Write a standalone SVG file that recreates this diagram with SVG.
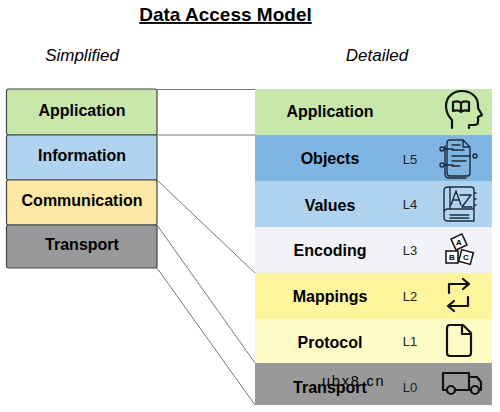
<svg xmlns="http://www.w3.org/2000/svg" width="500" height="412" viewBox="0 0 500 412">
<style>
text{font-family:"Liberation Sans",Arial,sans-serif;fill:#000}
.b{font-weight:bold;font-size:16px;text-anchor:middle}
.l{font-size:13px;text-anchor:middle;fill:#222}
.h{font-style:italic;font-size:17px;text-anchor:middle}
.s{stroke:#444;stroke-width:1.200;}
.c{stroke:#777;stroke-width:1;fill:none}
.i{fill:none;stroke:#111;stroke-width:2.200;stroke-linejoin:round;stroke-linecap:round}
.t{fill:none;stroke:#1c2b3a;stroke-width:1.400;stroke-linejoin:round;stroke-linecap:round}
</style>
<g id="title"><text x="225.500" y="21" text-anchor="middle" font-size="19" font-weight="bold" text-decoration="underline">Data Access Model</text></g>
<text class="h" x="82" y="61">Simplified</text>
<text class="h" x="377" y="61">Detailed</text>
<g id="connectors">
<path class="c" d="M157 89.500H255M157 135H255M157 180L255 273M157 225L255 363M157 268L255 405"/>
</g>
<g id="simple-application"><rect class="s" x="6.500" y="89" width="150.500" height="46" rx="2" fill="#c7e7ab"/><text class="b" x="82" y="116">Application</text></g>
<g id="simple-information"><rect class="s" x="6.500" y="135" width="150.500" height="45" rx="2" fill="#b0d4f0"/><text class="b" x="82" y="161">Information</text></g>
<g id="simple-communication"><rect class="s" x="6.500" y="180" width="150.500" height="45" rx="2" fill="#fde9a5"/><text class="b" x="82" y="206">Communication</text></g>
<g id="simple-transport"><rect class="s" x="6.500" y="225" width="150.500" height="43" rx="2" fill="#999"/><text class="b" x="82" y="250">Transport</text></g>
<g id="detail-application"><rect x="255" y="89" width="237" height="46" fill="#c7e7ab"/><text class="b" x="330" y="117">Application</text>
<path class="i" d="M452 128v-8c-4-4-6-9-6-14 0-9 7-15 16-15 9 0 16 6 16 14l0 3 4 7-4 2v5c0 2-2 3-4 3h-5v3"/><path class="i" d="M453 102c3-1 6-1 8 1 2-2 5-2 8-1v9c-3-1-6-1-8 1-2-2-5-2-8-1zM461 103v9"/></g>
<g id="detail-objects"><rect x="255" y="135" width="237" height="46" fill="#7fb5e3"/><text class="b" x="330" y="164">Objects</text><text class="l" x="410" y="164">L5</text>
<path class="t" d="M447 143c0-2 1-3 3-3h13l7 7v26c0 2-1 3-3 3h-17c-2 0-3-1-3-3zM463 140v7h7M445 146v28c0 3 2 4 4 4h17"/><path class="t" d="M452 145h8M452 150h12M452 156h14M452 161h14M452 166h8M445 149h8M445 165h8M466 156h4"/><circle class="t" cx="442" cy="149" r="2"/><circle class="t" cx="442" cy="165" r="2"/><circle class="t" cx="475" cy="156" r="2"/></g>
<g id="detail-values"><rect x="255" y="181" width="237" height="46" fill="#b0d4f0"/><text class="b" x="330" y="211">Values</text><text class="l" x="410" y="209">L4</text>
<path class="t" d="M444 217v-26c0-3 2-4 4-4h23c2 0 3 1 3 3v31h-26c-3 0-4-2-4-4zM444 213c0-3 2-4 4-4h26M450 187v22M450 215h19M450 218h19M474 193h2M474 199h2M474 205h2"/><path class="t" d="M451 205l5-14 5 14M453 200h6M460 195h11l-9 12h10" stroke-width="1.600"/></g>
<g id="detail-encoding"><rect x="255" y="227" width="237" height="46" fill="#f2f3f8"/><text class="b" x="330" y="256">Encoding</text><text class="l" x="410" y="255">L3</text>
<g stroke="#111" stroke-width="1.500" fill="#fff"><rect x="453" y="236" width="12" height="12" transform="rotate(-25 459 242)"/><rect x="446" y="251" width="12" height="12"/><rect x="460" y="251" width="12" height="12" transform="rotate(15 466 257)"/></g><g font-size="8" font-weight="bold" text-anchor="middle"><text x="459" y="245">A</text><text x="452" y="260">B</text><text x="466" y="260">C</text></g></g>
<g id="detail-mappings"><rect x="255" y="273" width="237" height="46" fill="#fff59d"/><text class="b" x="330" y="302">Mappings</text><text class="l" x="410" y="301">L2</text>
<path class="i" d="M449 293v-9h20M463 279l6 5-6 5M468 297v9h-20M454 301l-6 5 6 5"/></g>
<g id="detail-protocol"><rect x="255" y="319" width="237" height="44" fill="#fefbc7"/><text class="b" x="330" y="348">Protocol</text><text class="l" x="410" y="346">L1</text>
<path class="i" d="M447 328c0-2 1-3 3-3h13l8 8v20c0 2-1 3-3 3h-18c-2 0-3-1-3-3zM462 325v9h9"/></g>
<g id="detail-transport"><rect x="255" y="363" width="237" height="42" fill="#999"/><text class="b" x="330" y="393">Transport</text><text class="l" x="410" y="392">L0</text>
<path class="i" d="M446 390h-3v-17h26v17h-14M469 377h8l4 5v8h-2M469 390h2"/><circle class="i" cx="451" cy="390" r="4"/><circle class="i" cx="475" cy="390" r="4"/></g>
<g id="watermark"><text x="322" y="386" font-size="14.500" letter-spacing="1.800">ubx8.cn</text></g>
</svg>
